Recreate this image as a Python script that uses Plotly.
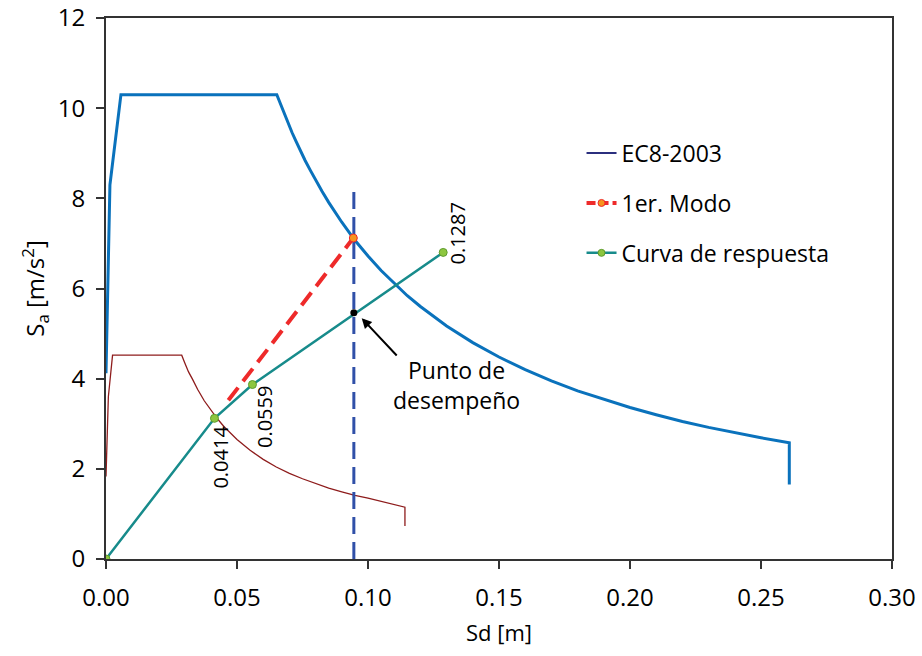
import plotly.graph_objects as go

# Elastic spectrum in ADRS format (Sd [m], Sa [m/s2])
spec_sd = [0.0, 0.0015, 0.0057, 0.0652, 0.0665, 0.068, 0.0695, 0.071, 0.0725, 0.074,
           0.076, 0.078, 0.080, 0.0825, 0.085, 0.0875, 0.090, 0.095, 0.100, 0.105,
           0.110, 0.115, 0.120, 0.125, 0.130, 0.140, 0.150, 0.160, 0.170, 0.180,
           0.190, 0.200, 0.210, 0.220, 0.230, 0.240, 0.250, 0.2608, 0.2608]
spec_sa = [4.12, 8.30, 10.30, 10.30, 10.11, 9.88, 9.67, 9.46, 9.27, 9.08,
           8.84, 8.62, 8.40, 8.15, 7.91, 7.68, 7.47, 7.07, 6.72, 6.40,
           6.11, 5.84, 5.60, 5.38, 5.17, 4.80, 4.48, 4.20, 3.95, 3.73,
           3.54, 3.36, 3.20, 3.05, 2.92, 2.80, 2.69, 2.58, 1.65]

# Reduced (inelastic) spectrum
red_sd = [0.0, 0.0009, 0.0025, 0.0289, 0.030, 0.0315, 0.033, 0.035, 0.0375, 0.040,
          0.0425, 0.045, 0.0475, 0.050, 0.055, 0.060, 0.065, 0.070, 0.075, 0.080,
          0.085, 0.090, 0.095, 0.100, 0.107, 0.1141, 0.1141]
red_sa = [1.83, 3.60, 4.52, 4.52, 4.36, 4.15, 3.99, 3.76, 3.51, 3.30,
          3.11, 2.94, 2.79, 2.65, 2.41, 2.21, 2.04, 1.90, 1.78, 1.67,
          1.57, 1.49, 1.41, 1.35, 1.25, 1.15, 0.73]

# First-mode elastic line
modo_sd = [0.0467, 0.0944]
modo_sa = [3.52, 7.12]

# Capacity (response) curve
cap_sd = [0.0, 0.0414, 0.0559, 0.1287]
cap_sa = [0.0, 3.12, 3.87, 6.80]
cap_labels = ["0.0414", "0.0559", "0.1287"]
cap_label_sd = [0.0439, 0.0607, 0.1342]
cap_label_sa = [2.25, 3.15, 7.21]

# Performance point and its vertical marker
perf_sd = 0.0946
perf_sa = 5.46
vline_sa = [0.0, 8.15]

FONT = "Open Sans"
BLUE = "#0A72BC"
BROWN = "#8E1C1C"
RED = "#EE2A2A"
TEAL = "#178B8B"
GREEN = "#8DC63F"
ORANGE = "#F7941D"
NAVY = "#2B2F7E"
DASHBLUE = "#3050A8"

fig = go.Figure()

fig.add_trace(go.Scatter(x=spec_sd, y=spec_sa, mode="lines",
                         line=dict(color=BLUE, width=3), showlegend=False))
fig.add_trace(go.Scatter(x=red_sd, y=red_sa, mode="lines",
                         line=dict(color=BROWN, width=1.3), showlegend=False))
fig.add_trace(go.Scatter(x=[perf_sd, perf_sd], y=vline_sa, mode="lines",
                         line=dict(color=DASHBLUE, width=3, dash="17px,8px"),
                         showlegend=False))
fig.add_trace(go.Scatter(x=modo_sd, y=modo_sa, mode="lines",
                         line=dict(color=RED, width=4, dash="16px,8px"),
                         showlegend=False))
fig.add_trace(go.Scatter(x=modo_sd[-1:], y=modo_sa[-1:], mode="markers",
                         marker=dict(color=ORANGE, size=8, line=dict(color=RED, width=1)),
                         showlegend=False))
fig.add_trace(go.Scatter(x=cap_sd, y=cap_sa, mode="lines+markers",
                         line=dict(color=TEAL, width=2.5),
                         marker=dict(color=GREEN, size=8, line=dict(color="#5E9B2E", width=1)),
                         showlegend=False))
fig.add_trace(go.Scatter(x=[perf_sd], y=[perf_sa], mode="markers",
                         marker=dict(color="black", size=7), showlegend=False))

# Legend entries
fig.add_trace(go.Scatter(x=[None], y=[None], mode="lines", name="EC8-2003",
                         legendgroup="a", line=dict(color=NAVY, width=2)))
fig.add_trace(go.Scatter(x=[None], y=[None], mode="lines+markers", name="1er. Modo",
                         legendgroup="b", line=dict(color=RED, width=4, dash="9px,4px"),
                         marker=dict(color=ORANGE, size=7, line=dict(color=RED, width=1))))
fig.add_trace(go.Scatter(x=[None], y=[None], mode="lines+markers", name="Curva de respuesta",
                         legendgroup="c", line=dict(color=TEAL, width=2.5),
                         marker=dict(color=GREEN, size=7, line=dict(color="#5E9B2E", width=1))))

annotations = []
for txt, xs, ys in zip(cap_labels, cap_label_sd, cap_label_sa):
    annotations.append(dict(x=xs, y=ys, xref="x", yref="y", text=txt, textangle=-90,
                            showarrow=False, font=dict(family=FONT, size=20, color="black")))

annotations.append(dict(x=0.1339, y=3.85, xref="x", yref="y",
                        text="Punto de<br>desempeño", showarrow=False,
                        font=dict(family=FONT, size=23, color="black")))
annotations.append(dict(x=0.0976, y=5.34, xref="x", yref="y",
                        ax=0.1115, ay=4.48, axref="x", ayref="y",
                        text="", showarrow=True, arrowhead=2, arrowsize=1,
                        arrowwidth=2, arrowcolor="black", standoff=0))

fig.update_layout(
    width=922, height=656,
    margin=dict(l=106, r=30, t=18, b=97),
    paper_bgcolor="white", plot_bgcolor="white",
    font=dict(family=FONT, size=24, color="black"),
    annotations=annotations,
    legend=dict(x=0.605, y=0.79, xanchor="left", yanchor="top",
                font=dict(family=FONT, size=23, color="black"),
                bgcolor="rgba(0,0,0,0)", traceorder="grouped",
                tracegroupgap=17),
    showlegend=True,
)

fig.update_xaxes(range=[0, 0.30], tickvals=[0, 0.05, 0.10, 0.15, 0.20, 0.25, 0.30],
                 tickformat=".2f", ticks="outside", ticklen=8, tickwidth=1.5,
                 tickcolor="#333", showline=True, linecolor="#333", linewidth=2,
                 mirror=True, showgrid=False, zeroline=False, automargin=False,
                 ticklabelstandoff=8,
                 tickfont=dict(family=FONT, size=24),
                 title=dict(text="Sd [m]", font=dict(family=FONT, size=22), standoff=14))
fig.update_yaxes(range=[0, 12], tickvals=[0, 2, 4, 6, 8, 10, 12],
                 ticks="outside", ticklen=8, tickwidth=1.5,
                 tickcolor="#333", showline=True, linecolor="#333", linewidth=2,
                 mirror=True, showgrid=False, zeroline=False, automargin=False,
                 ticklabelstandoff=6,
                 tickfont=dict(family=FONT, size=24),
                 title=dict(text="S<sub>a</sub> [m/s<sup>2</sup>]",
                            font=dict(family=FONT, size=24), standoff=6))

fig.write_html("out.html")
